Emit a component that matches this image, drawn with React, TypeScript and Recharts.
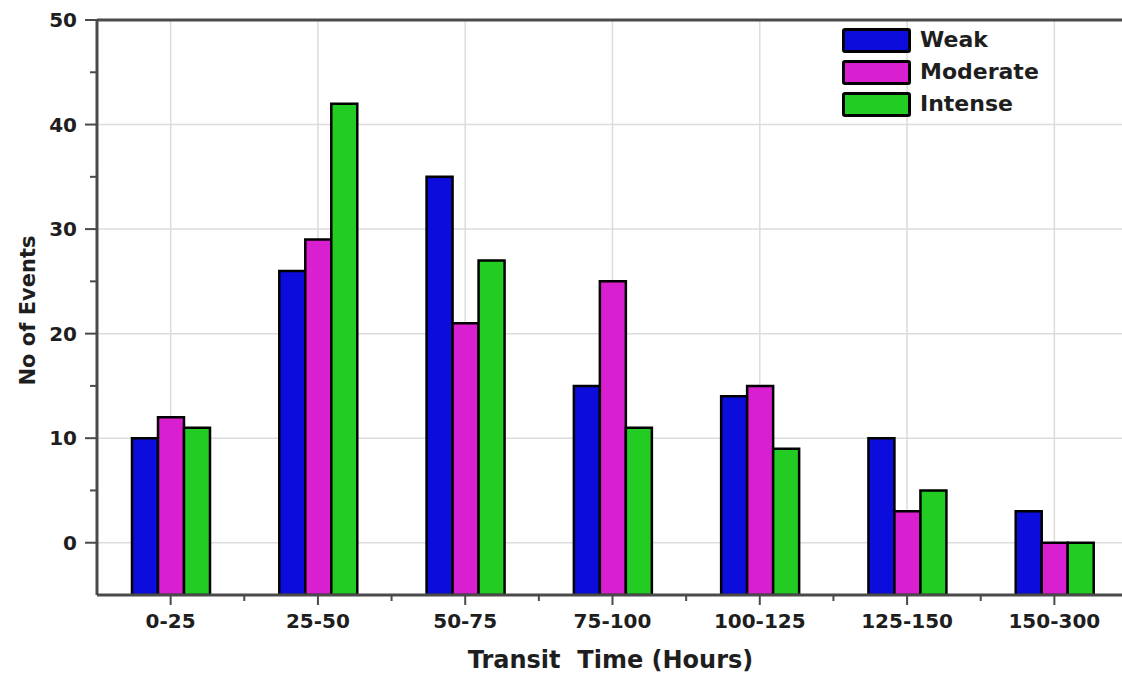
import React from 'react';
import { BarChart, Bar, XAxis, YAxis, CartesianGrid, Legend, ReferenceLine } from 'recharts';

const categories = ['0-25', '25-50', '50-75', '75-100', '100-125', '125-150', '150-300'];
const weak = [10, 26, 35, 15, 14, 10, 3];
const moderate = [12, 29, 21, 25, 15, 3, 0];
const intense = [11, 42, 27, 11, 9, 5, 0];
const seriesNames = ['Weak', 'Moderate', 'Intense'];
const seriesColors = ['#0c0cdc', '#d820d0', '#22cc22'];
const yMajorTicks = [0, 10, 20, 30, 40, 50];
const yMinorTicks = [5, 15, 25, 35, 45];
const yGridValues = [0, 10, 20, 30, 40];
const yDomain: [number, number] = [-5, 50];

const data = categories.map((c, i) => ({
  category: c,
  Weak: [yDomain[0], weak[i]],
  Moderate: [yDomain[0], moderate[i]],
  Intense: [yDomain[0], intense[i]],
}));

const W = 1140;
const H = 676;
const M_TOP = 20;
const M_RIGHT = 12;
const Y_W = 97;
const X_H = 81;
const AXIS_X = Y_W;
const AXIS_Y = H - X_H;
const HALF_BAND = (W - M_RIGHT - Y_W) / categories.length / 2;
const FONT = '"DejaVu Sans", sans-serif';
const AXIS_COLOR = '#4a4a4a';
const TEXT_COLOR = '#1e1e1e';

const YTick = (props: any) => {
  const { y, payload } = props;
  const v = payload.value;
  const major = yMajorTicks.includes(v);
  return (
    <g>
      <line x1={major ? AXIS_X - 12 : AXIS_X - 7} x2={AXIS_X} y1={y} y2={y} stroke={AXIS_COLOR} strokeWidth={2} />
      {major && (
        <text x={AXIS_X - 20} y={y} dy="0.36em" textAnchor="end" fontFamily={FONT} fontWeight="bold" fontSize={20} fill={TEXT_COLOR}>
          {v}
        </text>
      )}
    </g>
  );
};

const XTick = (props: any) => {
  const { x, payload } = props;
  return (
    <g>
      <line x1={x} x2={x} y1={AXIS_Y} y2={AXIS_Y + 10} stroke={AXIS_COLOR} strokeWidth={2} />
      <line x1={x + HALF_BAND} x2={x + HALF_BAND} y1={AXIS_Y} y2={AXIS_Y + 6} stroke={AXIS_COLOR} strokeWidth={2} />
      <text x={x} y={AXIS_Y + 33} textAnchor="middle" fontFamily={FONT} fontWeight="bold" fontSize={20} fill={TEXT_COLOR}>
        {payload.value}
      </text>
    </g>
  );
};

const LegendContent = () => (
  <div style={{ fontFamily: FONT, fontWeight: 'bold', fontSize: 22, color: TEXT_COLOR }}>
    {seriesNames.map((n, i) => (
      <div key={n} style={{ display: 'flex', alignItems: 'center', height: 32 }}>
        <div
          style={{
            width: 63,
            height: 19,
            background: seriesColors[i],
            border: '3px solid #000',
            borderRadius: 3,
            marginRight: 9,
          }}
        />
        <span style={{ lineHeight: '24px' }}>{n}</span>
      </div>
    ))}
  </div>
);

export default function App() {
  return (
    <div style={{ position: 'fixed', left: 0, top: 0, width: 1122, height: 676, overflow: 'hidden', background: '#fff' }}>
      <BarChart
        width={W}
        height={H}
        data={data}
        margin={{ top: M_TOP, right: M_RIGHT, bottom: 0, left: 0 }}
        barCategoryGap={35}
        barGap={0}
      >
        <CartesianGrid
          stroke="#dcdcdc"
          strokeWidth={1.5}
          horizontalValues={yGridValues}
          verticalValues={categories}
        />
        <XAxis
          dataKey="category"
          height={X_H}
          tick={<XTick />}
          tickLine={false}
          tickSize={10}
          tickMargin={0}
          axisLine={{ stroke: AXIS_COLOR, strokeWidth: 3 }}
          interval={0}
          label={{
            content: (p: any) => {
              const vb = p.viewBox || {};
              return (
                <text x={(vb.x ?? 97) + (vb.width ?? 1031) / 2 - 2} y={668} textAnchor="middle" fontFamily={FONT} fontWeight="bold" fontSize={24} fill={TEXT_COLOR}>
                  {'Transit\u00a0\u00a0Time (Hours)'}
                </text>
              );
            },
          }}
        />
        <YAxis
          type="number"
          domain={yDomain}
          ticks={[...yMajorTicks, ...yMinorTicks].sort((a, b) => a - b)}
          width={Y_W}
          tick={<YTick />}
          tickLine={false}
          tickSize={12}
          tickMargin={8}
          axisLine={{ stroke: AXIS_COLOR, strokeWidth: 3 }}
          interval={0}
          allowDataOverflow
          label={{
            content: (p: any) => {
              const vb = p.viewBox || {};
              const cy = (vb.y ?? 20) + (vb.height ?? 575) / 2 + 3;
              return (
                <text x={27} y={cy} transform={`rotate(-90 27 ${cy})`} dy="0.36em" textAnchor="middle" fontFamily={FONT} fontWeight="bold" fontSize={21} fill={TEXT_COLOR}>
                  No of Events
                </text>
              );
            },
          }}
        />
        <Legend
          layout="vertical"
          align="center"
          verticalAlign="middle"
          content={<LegendContent />}
          wrapperStyle={{ position: 'absolute', left: 842, top: 24, width: 'auto', height: 'auto' }}
        />
        {seriesNames.map((n, i) => (
          <Bar key={n} dataKey={n} name={n} fill={seriesColors[i]} stroke="#000" strokeWidth={2.5} isAnimationActive={false} />
        ))}
        <ReferenceLine y={50} stroke={AXIS_COLOR} strokeWidth={3} ifOverflow="visible" />
      </BarChart>
    </div>
  );
}
